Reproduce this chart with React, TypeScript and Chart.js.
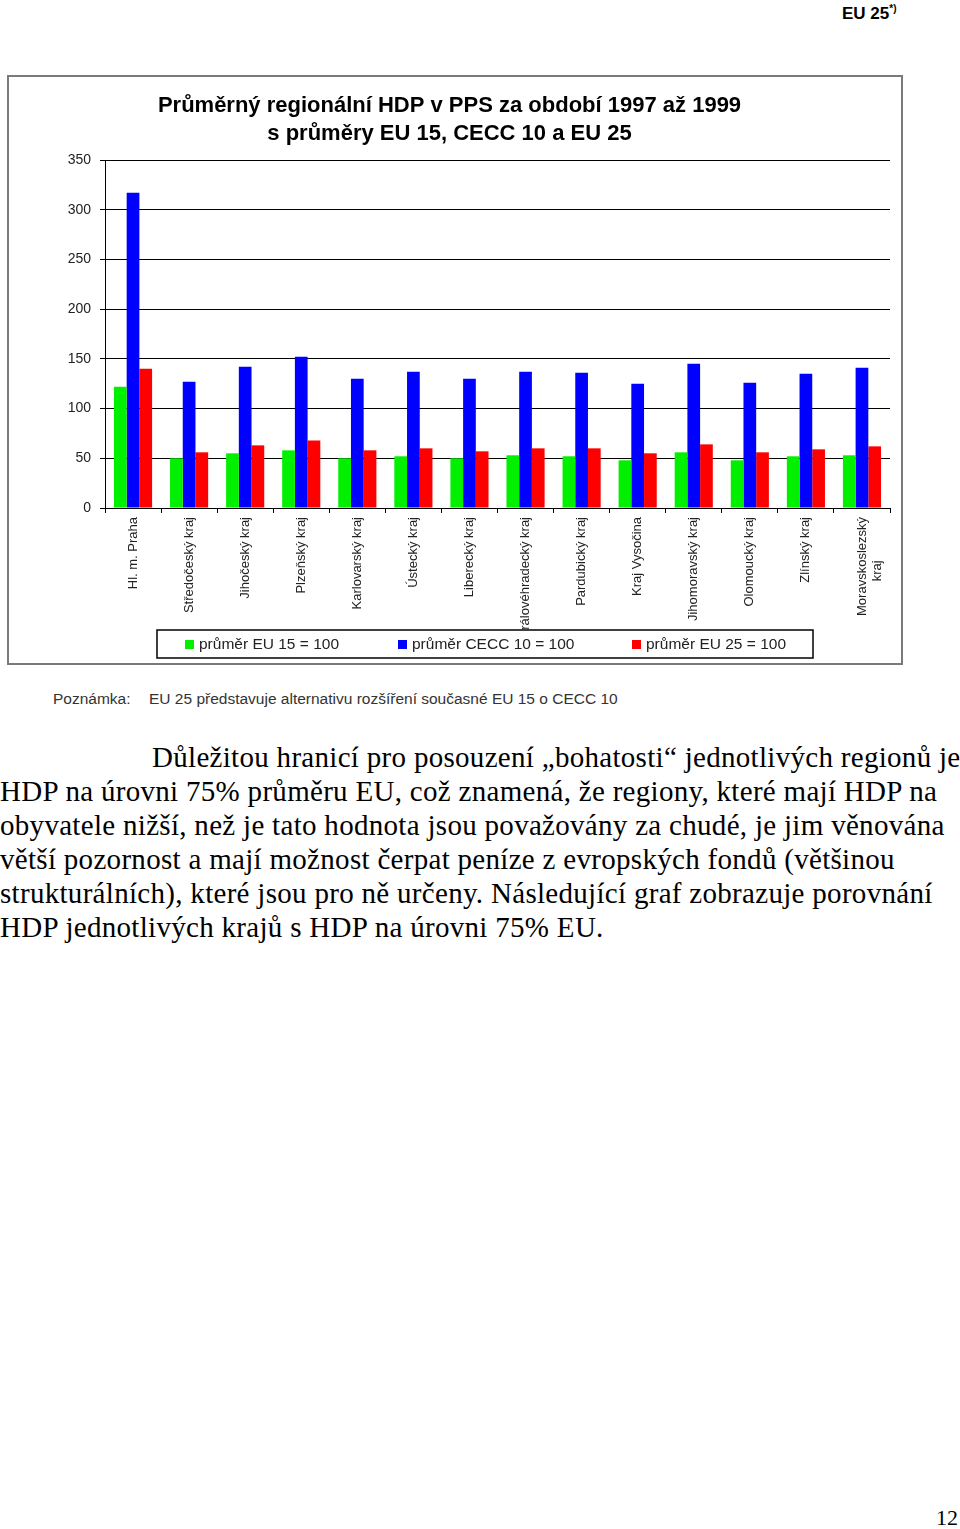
import React, { useEffect, useRef } from "react";
import { Chart, registerables } from "chart.js";

Chart.register(...registerables);

const regions: (string | string[])[] = [
  "Hl. m. Praha",
  "Středočeský kraj",
  "Jihočeský kraj",
  "Plzeňský kraj",
  "Karlovarský kraj",
  "Ústecký kraj",
  "Liberecký kraj",
  "Královéhradecký kraj",
  "Pardubický kraj",
  "Kraj Vysočina",
  "Jihomoravský kraj",
  "Olomoucký kraj",
  "Zlínský kraj",
  ["Moravskoslezský", "kraj            "],
];

const seriesNames = ["průměr EU 15 = 100", "průměr CECC 10 = 100", "průměr EU 25 = 100"];
const seriesColors = ["#00f000", "#0000ff", "#ff0000"];

const eu15 = [122, 50, 55, 58, 50, 52, 50, 53, 52, 48, 56, 48, 52, 53];
const cecc10 = [317, 127, 142, 152, 130, 137, 130, 137, 136, 125, 145, 126, 135, 141];
const eu25 = [140, 56, 63, 68, 58, 60, 57, 60, 60, 55, 64, 56, 59, 62];

const yMin = 0;
const yMax = 350;
const yStep = 50;

const titleLines = [
  "Průměrný regionální HDP v PPS za období 1997 až 1999",
  "s průměry EU 15, CECC 10 a EU 25",
];

const paragraphLines = [
  "Důležitou hranicí pro posouzení „bohatosti“ jednotlivých regionů je",
  "HDP na úrovni 75% průměru EU, což znamená, že regiony, které mají HDP na",
  "obyvatele nižší, než je tato hodnota jsou považovány za chudé, je jim věnována",
  "větší pozornost a mají možnost čerpat peníze z evropských fondů (většinou",
  "strukturálních), které jsou pro ně určeny. Následující graf zobrazuje porovnání",
  "HDP jednotlivých krajů s HDP na úrovni 75% EU.",
];

const SANS = "'Liberation Sans', Arial, sans-serif";
const SERIF = "'Liberation Serif', 'Times New Roman', serif";

const legendBoxPlugin = {
  id: "legendBox",
  afterDraw(chart: any) {
    const ctx = chart.ctx;
    const bx = 148, by = 553, bw = 656, bh = 28;
    ctx.save();
    ctx.fillStyle = "#ffffff";
    ctx.fillRect(bx, by, bw, bh);
    ctx.strokeStyle = "#000000";
    ctx.lineWidth = 1.5;
    ctx.strokeRect(bx, by, bw, bh);
    const itemX = [28, 241, 475];
    ctx.font = `15.5px ${SANS}`;
    ctx.textBaseline = "middle";
    ctx.textAlign = "left";
    chart.data.datasets.forEach((ds: any, i: number) => {
      ctx.fillStyle = ds.backgroundColor;
      ctx.fillRect(bx + itemX[i], by + 10, 9, 9);
      ctx.fillStyle = "#222";
      ctx.fillText(ds.label, bx + itemX[i] + 14, by + 15);
    });
    ctx.restore();
  },
};

function ChartBox() {
  const ref = useRef<HTMLCanvasElement | null>(null);
  useEffect(() => {
    if (!ref.current) return;
    const chart = new Chart(ref.current, {
      type: "bar",
      data: {
        labels: regions as any,
        datasets: [eu15, cecc10, eu25].map((d, i) => ({
          label: seriesNames[i],
          data: d,
          backgroundColor: seriesColors[i],
          borderWidth: 0,
          categoryPercentage: 0.68,
          barPercentage: 1.0,
        })),
      },
      options: {
        responsive: false,
        animation: false,
        layout: { padding: { left: 0, right: 11, top: 0, bottom: 0 } },
        plugins: {
          legend: { display: false },
          tooltip: { enabled: false },
          title: {
            display: true,
            text: titleLines,
            color: "#000",
            font: { family: SANS, size: 22, weight: "bold", lineHeight: 1.273 },
            padding: { top: 15, bottom: 12 },
          },
        },
        scales: {
          x: {
            offset: true,
            grid: {
              display: true,
              drawOnChartArea: false,
              drawTicks: true,
              tickLength: 5,
              color: "#000",
              offset: true,
            },
            border: { display: true, color: "#000", width: 1 },
            ticks: {
              minRotation: 90,
              maxRotation: 90,
              autoSkip: false,
              padding: 4,
              color: "#222",
              font: { family: SANS, size: 13 },
            },
            afterFit: (s: any) => {
              s.height = 155;
            },
          },
          y: {
            min: yMin,
            max: yMax,
            ticks: {
              stepSize: yStep,
              padding: 9,
              color: "#222",
              font: { family: SANS, size: 14 },
            },
            grid: {
              color: "#000",
              tickLength: 5,
              drawTicks: true,
            },
            border: { display: true, color: "#000", width: 1 },
            afterFit: (s: any) => {
              s.width = 96;
            },
          },
        },
      },
      plugins: [legendBoxPlugin],
    });
    return () => chart.destroy();
  }, []);
  return (
    <div
      style={{
        position: "absolute",
        left: 7,
        top: 75,
        width: 896,
        height: 590,
        border: "2px solid #7a7a7a",
        boxSizing: "border-box",
        background: "#fff",
      }}
    >
      <canvas ref={ref} width={892} height={586} style={{ display: "block", width: 892, height: 586 }} />
    </div>
  );
}

export default function App() {
  const noteStyle: React.CSSProperties = {
    position: "absolute",
    top: 690,
    fontFamily: SANS,
    fontSize: 15.5,
    lineHeight: "18px",
    color: "#333",
    whiteSpace: "nowrap",
  };
  return (
    <div>
      <div
        style={{
          position: "absolute",
          left: 842,
          top: 4,
          fontFamily: SANS,
          fontWeight: "bold",
          fontSize: 17,
          lineHeight: "20px",
          color: "#000",
          whiteSpace: "nowrap",
        }}
      >
        EU 25<sup style={{ fontSize: 10, verticalAlign: "7px", lineHeight: 0 }}>*)</sup>
      </div>
      <ChartBox />
      <div style={{ ...noteStyle, left: 53 }}>Poznámka:</div>
      <div style={{ ...noteStyle, left: 149 }}>
        EU 25 představuje alternativu rozšíření současné EU 15 o CECC 10
      </div>
      {paragraphLines.map((line, i) => (
        <div
          key={i}
          style={{
            position: "absolute",
            left: i === 0 ? 152 : 0,
            top: 740 + i * 34,
            fontFamily: SERIF,
            fontSize: 29,
            letterSpacing: "0.3px",
            lineHeight: "34px",
            color: "#000",
            whiteSpace: "nowrap",
          }}
        >
          {line}
        </div>
      ))}
      <div
        style={{
          position: "absolute",
          right: 2,
          top: 1505,
          fontFamily: SERIF,
          fontSize: 22,
          lineHeight: "26px",
          color: "#000",
        }}
      >
        12
      </div>
    </div>
  );
}
